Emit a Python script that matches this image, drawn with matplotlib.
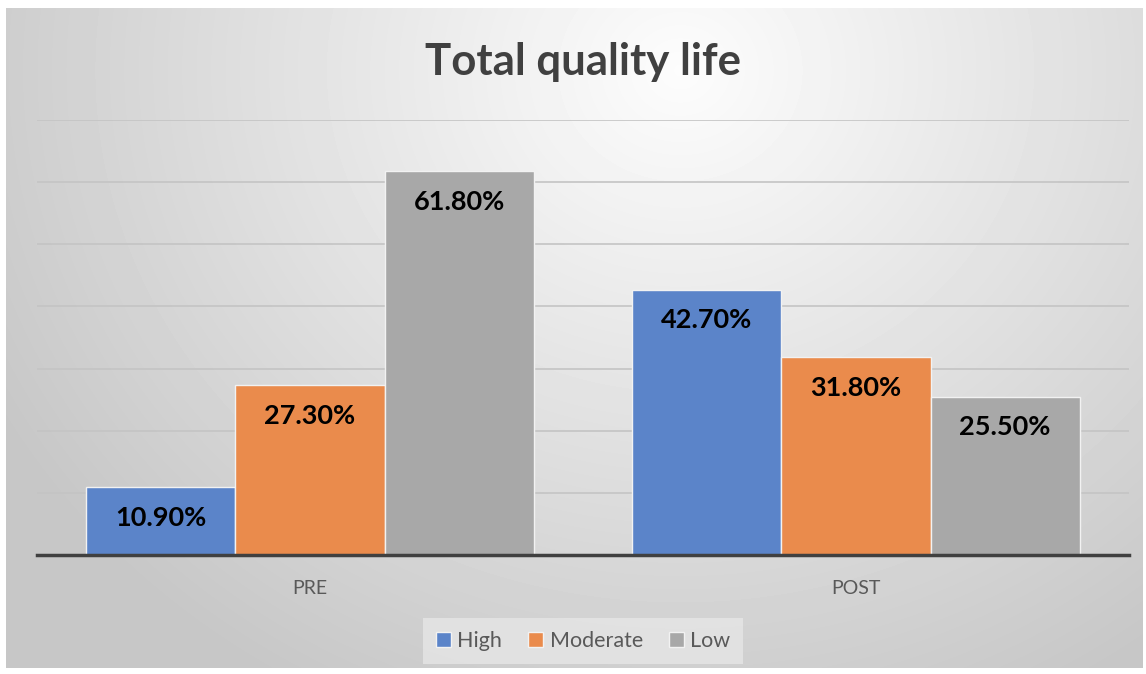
import numpy as np
import matplotlib.pyplot as plt
from matplotlib.patches import Patch

W, H = 1146, 674

categories = ["PRE", "POST"]
series_names = ["High", "Moderate", "Low"]
high = [10.9, 42.7]
moderate = [27.3, 31.8]
low = [61.8, 25.5]
colors = ["#5b84c9", "#ea8b4c", "#a8a8a8"]

plt.rcParams['font.family'] = ['Lato', 'DejaVu Sans']

fig = plt.figure(figsize=(W / 100, H / 100), dpi=100)
fig.patch.set_facecolor("white")

# soft radial gray background like the office chart area
bx0, by0, bx1, by1 = 6, 8, 1143, 668
bg = fig.add_axes([bx0 / W, 1 - by1 / H, (bx1 - bx0) / W, (by1 - by0) / H])
yy, xx = np.mgrid[by0:by1, bx0:bx1]
dist = np.hypot(xx - 680, (yy - 70) * 1.1)
shade = np.clip(0.99 - 0.00027 * dist, 0.78, 1.0)
bg.imshow(shade, cmap="gray", vmin=0, vmax=1, aspect="auto", interpolation="bilinear")
bg.axis("off")

ax = fig.add_axes([37 / W, (H - 555) / H, 1092 / W, 435 / H])
ax.patch.set_alpha(0)

x = np.arange(len(categories))
width = 0.273
series = [high, moderate, low]
for i, (name, vals) in enumerate(zip(series_names, series)):
    pos = x + (i - 1) * width
    bars = ax.bar(pos, vals, width, color=colors[i], edgecolor="#f2f2f2",
                  linewidth=1.0, label=name, zorder=3)
    for b, v in zip(bars, vals):
        ax.annotate("%.2f%%" % v, (b.get_x() + b.get_width() / 2, v),
                    xytext=(0, -22), textcoords="offset points",
                    ha="center", va="center", fontsize=19.5, fontweight="bold",
                    color="black", zorder=4)

ax.set_xlim(-0.5, 1.5)
ax.set_ylim(0, 70)
ax.set_yticks(np.arange(10, 71, 10))
ax.yaxis.grid(True, color="#c4c4c4", linewidth=1.2, zorder=0)
ax.tick_params(axis="y", left=False, labelleft=False)
ax.set_xticks(x)
ax.set_xticklabels(categories, fontsize=14, color="#595959")
ax.tick_params(axis="x", length=0, pad=18)
for s in ["top", "right", "left"]:
    ax.spines[s].set_visible(False)
ax.spines["bottom"].set_color("#404040")
ax.spines["bottom"].set_linewidth(2.5)
ax.spines["bottom"].set_zorder(5)

fig.text(583 / W, 1 - 62 / H, "Total quality life", ha="center", va="center",
         fontsize=31.5, fontweight="bold", color="#404040")

handles = [Patch(facecolor=c, edgecolor="#f2f2f2") for c in colors]
leg = fig.legend(handles, series_names, loc="center", bbox_to_anchor=(583 / W, 1 - 641 / H),
                 ncol=3, frameon=True, fancybox=False, fontsize=15.5,
                 handlelength=0.7, handleheight=0.7, handletextpad=0.3,
                 columnspacing=1.2, borderpad=0.6)
leg.get_frame().set_facecolor("#e6e6e6")
leg.get_frame().set_edgecolor("none")
for t in leg.get_texts():
    t.set_color("#595959")

fig.savefig("out.png", dpi=100)
